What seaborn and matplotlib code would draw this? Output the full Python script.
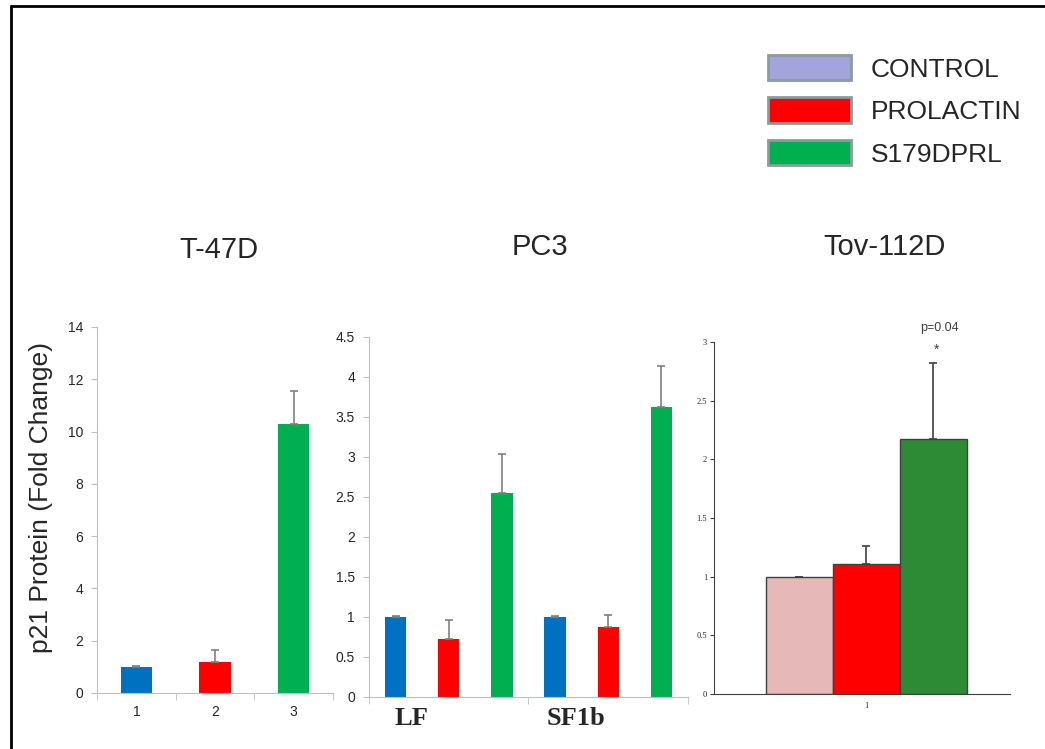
import matplotlib
matplotlib.use("Agg")
from matplotlib import pyplot as plt
from matplotlib.patches import Patch
from matplotlib.lines import Line2D
import numpy as np
import pandas as pd
import seaborn as sns

sns.set_style("white")
plt.rcParams['font.family'] = ['Liberation Sans', 'DejaVu Sans']

# legend
legend_labels = ["CONTROL", "PROLACTIN", "S179DPRL"]
legend_colors = ["#A4A4DC", "#FF0000", "#00B050"]

# T-47D
t47_cats = ["1", "2", "3"]
t47_vals = [1.0, 1.2, 10.3]
t47_err = [0.03, 0.45, 1.25]
t47_colors = ["#0070C0", "#FF0000", "#00B050"]

# PC3
pc3_bars = ["LF-C", "LF-P", "LF-S", "SF1b-C", "SF1b-P", "SF1b-S"]
pc3_treat = ["CONTROL", "PROLACTIN", "S179DPRL", "CONTROL", "PROLACTIN", "S179DPRL"]
pc3_vals = [1.0, 0.73, 2.55, 1.0, 0.87, 3.62]
pc3_err = [0.01, 0.23, 0.49, 0.01, 0.15, 0.52]
pc3_groups = ["LF", "SF1b"]
pc3_colors = {"CONTROL": "#0070C0", "PROLACTIN": "#FF0000", "S179DPRL": "#00B050"}

# Tov-112D
tov_cat = ["1", "1", "1"]
tov_treat = ["CONTROL", "PROLACTIN", "S179DPRL"]
tov_vals = [1.0, 1.11, 2.17]
tov_err = [0.0, 0.15, 0.65]
tov_colors = {"CONTROL": "#E6B8B7", "PROLACTIN": "#FF0000", "S179DPRL": "#2E8B35"}

W, H = 1045, 749
fig = plt.figure(figsize=(W / 100, H / 100), dpi=100)


def box(l, r, b, t):
    return [l / W, 1 - b / H, (r - l) / W, (b - t) / H]


def add_err(ax, err, color, cap):
    bars = sorted(ax.patches, key=lambda p: p.get_x())
    xs = [p.get_x() + p.get_width() / 2 for p in bars]
    ys = [p.get_height() for p in bars]
    ax.errorbar(xs, ys, yerr=[np.zeros(len(err)), err], fmt='none',
                ecolor=color, elinewidth=1.2, capsize=3, capthick=1.2)
    return xs


gray = "#BFBFBF"
txt = "#262626"

# ---- panel 1 ----
ax1 = fig.add_axes(box(97, 333, 693, 327))
df1 = pd.DataFrame({"cat": t47_cats, "val": t47_vals})
sns.barplot(data=df1, x="cat", y="val", hue="cat", palette=t47_colors, saturation=1,
            width=0.4, legend=False, ax=ax1, edgecolor="none")
add_err(ax1, t47_err, "#808080", 3)
ax1.set_ylim(0, 14)
ax1.set_yticks(np.arange(0, 15, 2))
ax1.set_xlim(-0.5, 2.5)
ax1.set_xticks([-0.5, 0.5, 1.5, 2.5], minor=True)
ax1.tick_params(axis='x', which='major', length=0, pad=9, labelsize=10, labelcolor=txt)
ax1.tick_params(axis='x', which='minor', length=5, color=gray, direction='out', bottom=True)
ax1.tick_params(axis='y', length=4, color=gray, direction='out', left=True, pad=6,
                labelsize=10, labelcolor=txt)
ax1.set_xlabel("")
ax1.set_ylabel("p21 Protein (Fold Change)", fontsize=19)
ax1.yaxis.set_label_coords(-0.186, 0.533)
sns.despine(ax=ax1)
for s in ["left", "bottom"]:
    ax1.spines[s].set_color(gray)

# ---- panel 2 ----
ax2 = fig.add_axes(box(369, 688, 697, 337))
df2 = pd.DataFrame({"bar": pc3_bars, "treat": pc3_treat, "val": pc3_vals})
sns.barplot(data=df2, x="bar", y="val", hue="treat", palette=pc3_colors, saturation=1,
            dodge=False, width=0.4, legend=False, ax=ax2, edgecolor="none")
add_err(ax2, pc3_err, "#808080", 3)
ax2.set_ylim(0, 4.5)
ax2.set_yticks(np.arange(0, 4.6, 0.5))
ax2.set_yticklabels(["0", "0.5", "1", "1.5", "2", "2.5", "3", "3.5", "4", "4.5"])
ax2.set_xlim(-0.5, 5.5)
ax2.set_xticks([0.3, 3.4])
ax2.set_xticklabels(pc3_groups, fontsize=19, fontweight='bold',
                    family=['Liberation Serif', 'DejaVu Serif'])
ax2.set_xticks([-0.5, 2.5, 5.5], minor=True)
ax2.tick_params(axis='x', which='major', length=0, pad=7)
ax2.tick_params(axis='x', which='minor', length=5, color=gray, direction='out', bottom=True)
ax2.tick_params(axis='y', length=4, color=gray, direction='out', left=True, pad=6,
                labelsize=10, labelcolor=txt)
ax2.set_xlabel("")
ax2.set_ylabel("")
sns.despine(ax=ax2)
for s in ["left", "bottom"]:
    ax2.spines[s].set_color(gray)

# ---- panel 3 ----
ax3 = fig.add_axes(box(714, 1010, 694, 342))
df3 = pd.DataFrame({"cat": tov_cat, "treat": tov_treat, "val": tov_vals})
sns.barplot(data=df3, x="cat", y="val", hue="treat", palette=tov_colors, saturation=1,
            width=0.68, gap=0, legend=False, ax=ax3, edgecolor="#404040", linewidth=1)
xs3 = add_err(ax3, tov_err, "#404040", 3)
ax3.set_xlim(-0.514, 0.486)
ax3.set_ylim(0, 3)
ax3.set_yticks(np.arange(0, 3.1, 0.5))
ax3.set_yticklabels(["0", "0.5", "1", "1.5", "2", "2.5", "3"],
                    family=['Liberation Serif', 'DejaVu Serif'])
ax3.set_xticklabels(["1"], family=['Liberation Serif', 'DejaVu Serif'])
ax3.tick_params(axis='x', length=0, pad=6, labelsize=6)
ax3.tick_params(axis='y', length=3, color="#404040", direction='out', left=True, pad=2, labelsize=6)
ax3.set_xlabel("")
ax3.set_ylabel("")
sns.despine(ax=ax3)
for s in ["left", "bottom"]:
    ax3.spines[s].set_color("#404040")
ax3.text(xs3[2] + 0.02, 3.12, "p=0.04", ha='center', va='center', fontsize=9,
         color="#404040", clip_on=False)
ax3.text(xs3[2] + 0.01, 2.93, "*", ha='center', va='center', fontsize=10,
         color="#404040", clip_on=False)

# titles
fig.text(219 / W, 1 - 250 / H, "T-47D", ha='center', va='center', fontsize=21)
fig.text(540 / W, 1 - 247 / H, "PC3", ha='center', va='center', fontsize=21)
fig.text(885 / W, 1 - 247 / H, "Tov-112D", ha='center', va='center', fontsize=21)

# legend
handles = [Patch(facecolor=c, edgecolor="#8A9C9C", linewidth=2, label=l)
           for c, l in zip(legend_colors, legend_labels)]
fig.legend(handles=handles, loc='upper left', bbox_to_anchor=(768 / W, 1 - 55 / H),
           frameon=False, fontsize=19, handlelength=3.15, handleheight=1.1,
           labelspacing=0.6, handletextpad=0.75, borderpad=0, borderaxespad=0)

# outer frame
fig.add_artist(Line2D([11 / W, 11 / W], [0, 1 - 6 / H], color='black', lw=2))
fig.add_artist(Line2D([11 / W, 1], [1 - 6 / H, 1 - 6 / H], color='black', lw=2))

fig.savefig("out.png", dpi=100)
